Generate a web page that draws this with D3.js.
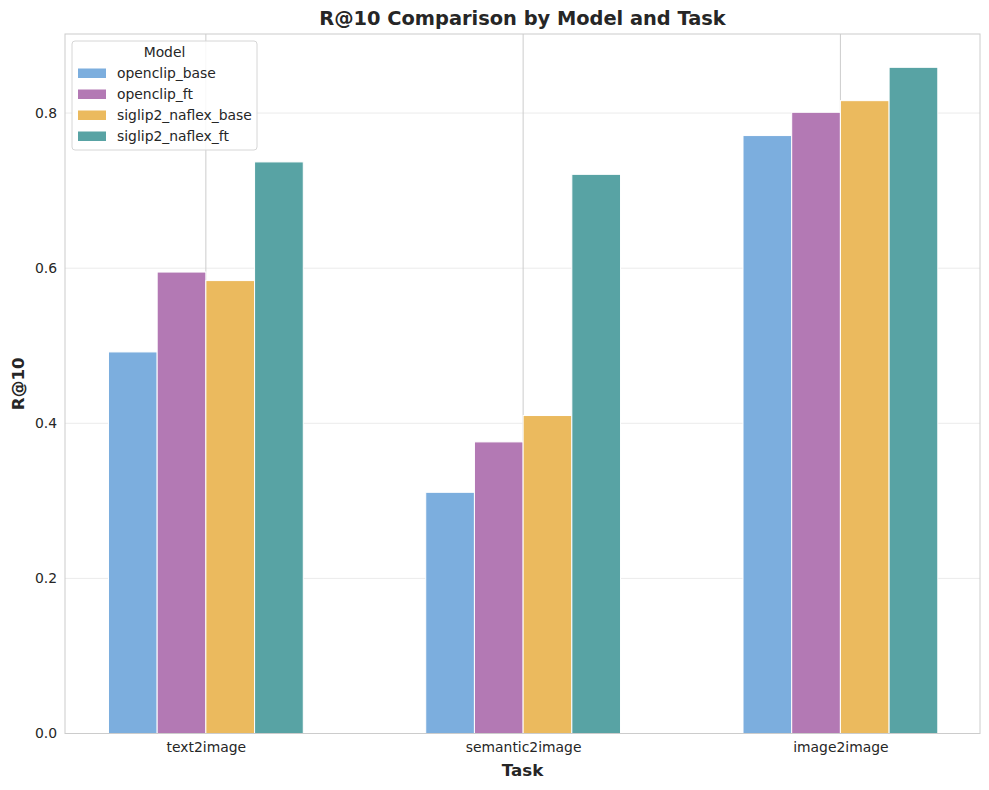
<!DOCTYPE html>
<html>
<head>
<meta charset="utf-8">
<script src="https://cdn.jsdelivr.net/npm/d3@7"></script>
<style>
  body { margin: 0; background: #fff; }
  text { font-family: "DejaVu Sans", sans-serif; fill: #262626; }
</style>
</head>
<body>
<script>
var tasks = ["text2image", "semantic2image", "image2image"];
var models = ["openclip_base", "openclip_ft", "siglip2_naflex_base", "siglip2_naflex_ft"];
var colors = ["#7caede", "#b379b4", "#ebba5e", "#58a3a4"];

// R@10 per model, one value per task
var openclipBase = [0.492, 0.311, 0.771];
var openclipFt = [0.595, 0.376, 0.801];
var siglipBase = [0.584, 0.410, 0.816];
var siglipFt = [0.737, 0.721, 0.859];

var yTicks = [0.0, 0.2, 0.4, 0.6, 0.8];

var series = [openclipBase, openclipFt, siglipBase, siglipFt];

var width = 989, height = 790;
var margin = { top: 34, right: 9, bottom: 56.5, left: 65 };
var barW = 0.1535;

var svg = d3.select("body")
  .append("svg")
  .attr("width", width)
  .attr("height", height);

var x = d3.scaleLinear()
  .domain([-0.444, tasks.length - 1 + 0.44])
  .range([margin.left, width - margin.right]);

var yMax = d3.max(series, function(s) { return d3.max(s); }) * 1.05;
var y = d3.scaleLinear()
  .domain([0, yMax])
  .range([height - margin.bottom, margin.top]);

// grid
svg.append("g")
  .selectAll("line")
  .data(yTicks)
  .enter()
  .append("line")
  .attr("x1", margin.left)
  .attr("x2", width - margin.right)
  .attr("y1", function(d) { return y(d); })
  .attr("y2", function(d) { return y(d); })
  .attr("stroke", "#ebebeb")
  .attr("stroke-width", 1);

svg.append("g")
  .selectAll("line")
  .data(tasks)
  .enter()
  .append("line")
  .attr("x1", function(d, i) { return x(i); })
  .attr("x2", function(d, i) { return x(i); })
  .attr("y1", margin.top)
  .attr("y2", height - margin.bottom)
  .attr("stroke", "#cccccc")
  .attr("stroke-width", 1);

// bars
series.forEach(function(vals, m) {
  svg.append("g")
    .selectAll("rect")
    .data(vals)
    .enter()
    .append("rect")
    .attr("x", function(d, i) { return x(i + (m - 2) * barW); })
    .attr("width", x(barW) - x(0))
    .attr("y", function(d) { return y(d); })
    .attr("height", function(d) { return y(0) - y(d); })
    .attr("fill", colors[m])
    .attr("stroke", "#fff")
    .attr("stroke-width", 1);
});

// frame
svg.append("rect")
  .attr("x", margin.left)
  .attr("y", margin.top)
  .attr("width", width - margin.left - margin.right)
  .attr("height", height - margin.top - margin.bottom)
  .attr("fill", "none")
  .attr("stroke", "#cccccc")
  .attr("stroke-width", 1);

// axes
var yAxis = svg.append("g")
  .attr("transform", "translate(" + margin.left + ",0)")
  .call(d3.axisLeft(y).tickValues(yTicks).tickFormat(d3.format(".1f")).tickSize(0).tickPadding(8));
yAxis.select(".domain").remove();
yAxis.selectAll("text").style("font-size", "13.9px").attr("fill", "#262626");

var xAxis = svg.append("g")
  .attr("transform", "translate(0," + (height - margin.bottom) + ")")
  .call(d3.axisBottom(x).tickValues([0, 1, 2]).tickFormat(function(d) { return tasks[d]; }).tickSize(0).tickPadding(9));
xAxis.select(".domain").remove();
xAxis.selectAll("text").style("font-size", "13.9px").attr("fill", "#262626");

// labels
svg.append("text")
  .attr("x", (margin.left + width - margin.right) / 2)
  .attr("y", 25)
  .attr("text-anchor", "middle")
  .style("font-size", "19.4px")
  .style("font-weight", "bold")
  .text("R@10 Comparison by Model and Task");

svg.append("text")
  .attr("x", (margin.left + width - margin.right) / 2)
  .attr("y", 776)
  .attr("text-anchor", "middle")
  .style("font-size", "16.7px")
  .style("font-weight", "bold")
  .text("Task");

svg.append("text")
  .attr("transform", "translate(24," + ((margin.top + height - margin.bottom) / 2) + ") rotate(-90)")
  .attr("text-anchor", "middle")
  .style("font-size", "16.7px")
  .style("font-weight", "bold")
  .text("R@10");

// legend
var legend = svg.append("g").attr("transform", "translate(72,41)");
legend.append("rect")
  .attr("width", 185)
  .attr("height", 109)
  .attr("rx", 3)
  .attr("fill", "#fff")
  .attr("fill-opacity", 0.85)
  .attr("stroke", "#d6d6d6");
legend.append("text")
  .attr("x", 92.5)
  .attr("y", 16)
  .attr("text-anchor", "middle")
  .style("font-size", "13.9px")
  .text("Model");
var item = legend.selectAll(".item")
  .data(models)
  .enter()
  .append("g")
  .attr("class", "item")
  .attr("transform", function(d, i) { return "translate(0," + (32 + i * 21) + ")"; });
item.append("rect")
  .attr("x", 6)
  .attr("y", -4.5)
  .attr("width", 28)
  .attr("height", 9.5)
  .attr("fill", function(d, i) { return colors[i]; });
item.append("text")
  .attr("x", 45)
  .attr("y", 5)
  .style("font-size", "13.9px")
  .text(function(d) { return d; });
</script>
</body>
</html>
